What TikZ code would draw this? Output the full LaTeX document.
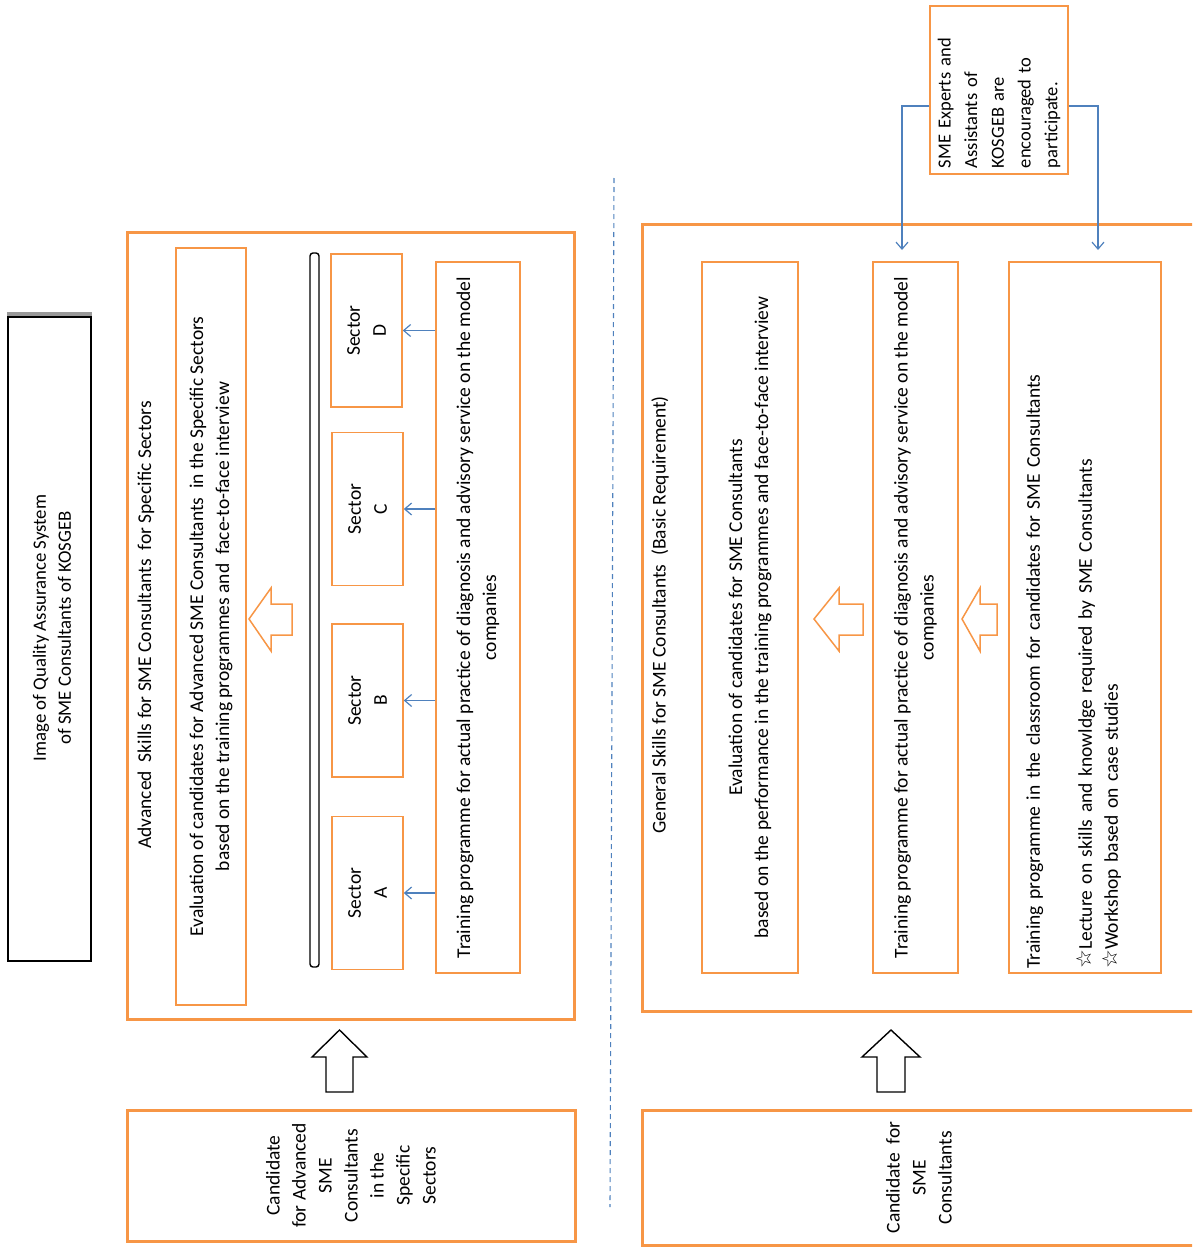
\documentclass[tikz,border=0pt]{standalone}
\usepackage{fontspec}
\setmainfont{Carlito}
\newfontfamily\symfont{DejaVu Sans}
\usepackage{xcolor}
\definecolor{orng}{HTML}{F79646}
\definecolor{blu}{HTML}{4F81BD}
\usetikzlibrary{arrows.meta}

\begin{document}
\begin{tikzpicture}[
  x=1pt, y=-1pt,
  every node/.style={font=\fontsize{19.5}{26}\selectfont},
  box/.style={draw=orng,line width=1.5pt,rotate=90,align=center,inner sep=0pt},
  frame/.style={draw=orng,line width=3pt,rotate=90,align=center,inner sep=0pt},
  txt/.style={rotate=90,align=center,inner sep=0pt},
  arrow/.style={-{Straight Barb[length=7pt,width=12pt]},draw=blu,line width=1.2pt},
  hollow/.style={draw=orng,line width=1.5pt},
  block/.style={draw=black,line width=1.4pt}
]
\clip (0,0) rectangle (1192,1247);

% title
\node[block,rotate=90,inner sep=0pt,minimum width=644pt,minimum height=83pt] (title) at (49.5,639) {};
\draw[gray!80,line width=4pt] ([yshift=2pt]title.north east) -- ([yshift=2pt]title.south east);
\node[txt,font=\fontsize{18.8}{25}\selectfont] (titletext) at (52,628) {Image of Quality Assurance System\\of SME Consultants of KOSGEB};

% advanced skills
\node[frame,minimum width=787pt,minimum height=447pt] (advframe) at (350.5,625.5) {};
\node[txt] (advtitle) at (146,625) {Advanced\ \ Skills for SME Consultants\ \ for Specific Sectors};
\node[box,minimum width=757pt,minimum height=70pt] (adveval) at (211,626.5)
  {Evaluation of candidates for Advanced SME Consultants\ \ in the Specific Sectors\\based on the training programmes and\ \ face-to-face interview};
\node[block,rotate=90,rounded corners=3pt,inner sep=0pt,minimum width=714pt,minimum height=9pt] (bar) at (314.5,610) {};
\node[box,minimum width=153pt,minimum height=71pt] (secD) at (366.5,330.5) {Sector\\D};
\node[box,minimum width=153pt,minimum height=71pt] (secC) at (367.5,509) {Sector\\C};
\node[box,minimum width=153pt,minimum height=71pt] (secB) at (367.5,700.5) {Sector\\B};
\node[box,minimum width=153pt,minimum height=71pt] (secA) at (367.5,893) {Sector\\A};
\node[box,minimum width=711pt,minimum height=84pt] (advtrain) at (478,617.5)
  {Training programme for actual practice of diagnosis and advisory service on the model\\companies};
\draw[arrow] (advtrain.north |- secD.south) -- (secD.south);
\draw[arrow] (advtrain.north |- secC.south) -- (secC.south);
\draw[arrow] (advtrain.north |- secB.south) -- (secB.south);
\draw[arrow] (advtrain.north |- secA.south) -- (secA.south);
\draw[hollow] (249,619) -- (271,588) -- (271,604) -- (292,604) -- (292,635) -- (271,635) -- (271,651) -- cycle;

\node[frame,minimum width=131pt,minimum height=448pt] (advcand) at (351,1175.5)
  {Candidate\\for Advanced\\SME\\Consultants\\in the\\Specific\\Sectors};
\draw[block] (339.5,1030) -- (367,1057) -- (353,1057) -- (353,1092) -- (326,1092) -- (326,1057) -- (312,1057) -- cycle;

% separator
\draw[blu,line width=1.1pt,dash pattern=on 5pt off 4pt] (614,178) -- (610,1207);

% general skills
\node[frame,minimum width=787pt,minimum height=554pt] (genframe) at (919,617.5) {};
\node[txt] (gentitle) at (660,615) {General Skills for SME Consultants\ \ (Basic Requirement)};
\node[box,minimum width=711pt,minimum height=96pt] (geneval) at (750,617.5)
  {Evaluation of candidates for SME Consultants\\based on the performance in the training programmes and face-to-face interview};
\node[box,minimum width=711pt,minimum height=85pt] (gentrain) at (915.5,617.5)
  {Training programme for actual practice of diagnosis and advisory service on the model\\companies};
\node[box,align=left,text width=702pt,minimum width=711pt,minimum height=152pt] (genclass) at (1085,617.5)
  {Training programme in the classroom for candidates for SME Consultants\\
   \mbox{}\\
   {\symfont\fontsize{21}{26}\selectfont ☆}Lecture on skills and knowldge required by SME Consultants\\
   {\symfont\fontsize{21}{26}\selectfont ☆}Workshop based on case studies\\
   \mbox{}};
\draw[hollow] (814,619) -- (839,588) -- (839,604) -- (863,604) -- (863,635) -- (839,635) -- (839,651) -- cycle;
\draw[hollow] (962,619) -- (980,588) -- (980,604) -- (997,604) -- (997,635) -- (980,635) -- (980,651) -- cycle;

\node[box,align=left,text width=156pt,minimum width=168pt,minimum height=138pt,font=\fontsize{18.5}{26.7}\selectfont] (experts) at (999,90)
  {SME Experts and\\Assistants of\\KOSGEB are\\encouraged to\\participate.};
\coordinate (traintip) at (902,250);
\coordinate (classtip) at (1098,250);
\draw[arrow] ([yshift=-16pt]experts.north) -| (traintip);
\draw[arrow] ([yshift=-16pt]experts.south) -| (classtip);

\node[frame,minimum width=135pt,minimum height=554pt] (gencand) at (919,1177.5)
  {Candidate\ \ for\\SME\\Consultants};
\draw[block] (891,1030) -- (920,1057) -- (905,1057) -- (905,1092) -- (877,1092) -- (877,1057) -- (862,1057) -- cycle;
\end{tikzpicture}
\end{document}
